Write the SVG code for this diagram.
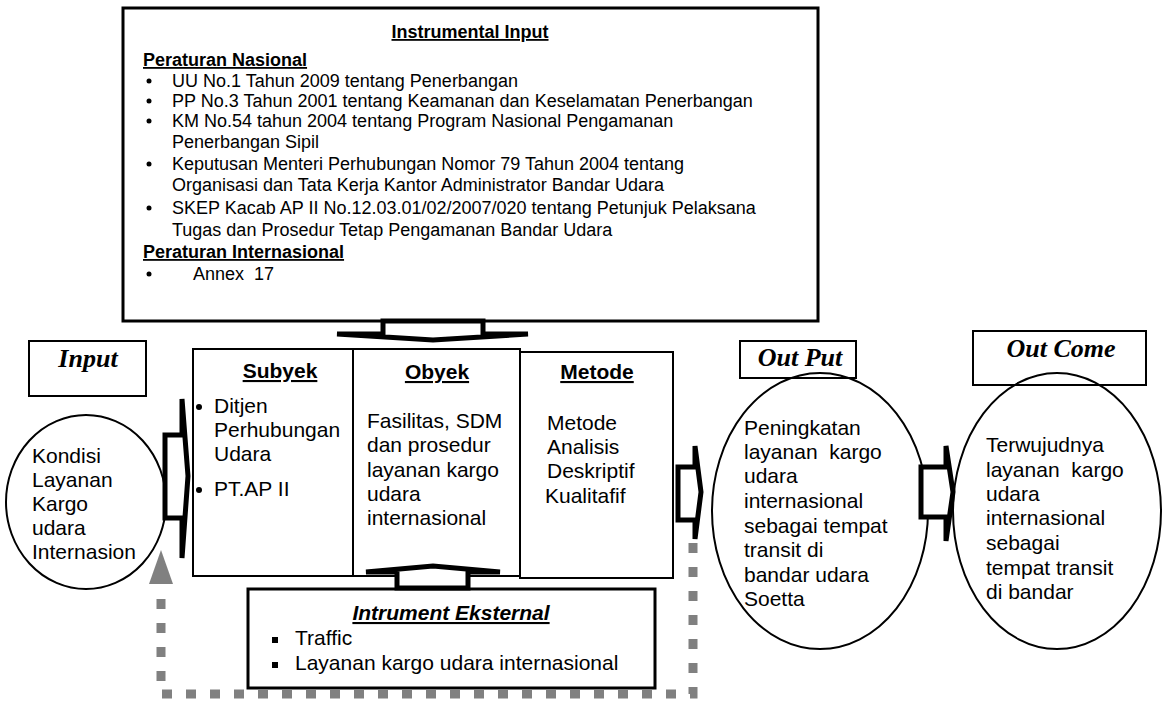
<svg xmlns="http://www.w3.org/2000/svg" width="1165" height="703" viewBox="0 0 1165 703">
<style>
.t{font-family:"Liberation Sans",Arial,sans-serif;fill:#000}
.s18{font-size:18px}
.s21{font-size:21px}
.b{font-weight:bold}
.u{text-decoration:underline}
.ti{font-family:"Liberation Serif","Times New Roman",serif;font-weight:bold;font-style:italic;font-size:26px;fill:#000}
.box{fill:#fff;stroke:#000;stroke-width:2}
.ell{fill:none;stroke:#000;stroke-width:2}
.blk{fill:#fff;stroke:#000;stroke-width:5;stroke-linejoin:miter}
.dot{fill:none;stroke:#808080;stroke-width:9;stroke-dasharray:10 14}
</style>
<rect width="1165" height="703" fill="#fff"/>

<g id="instrumental-input">
<rect x="123" y="8" width="695" height="313" fill="#fff" stroke="#000" stroke-width="3"/>
<text class="t s18 b u" x="470" y="38" text-anchor="middle">Instrumental Input</text>
<text class="t s18 b u" x="143" y="66">Peraturan Nasional</text>
<g fill="#000">
<circle cx="149" cy="81" r="2.5"/><circle cx="149" cy="101" r="2.5"/><circle cx="149" cy="121" r="2.5"/>
<circle cx="149" cy="164" r="2.5"/><circle cx="149" cy="208" r="2.5"/><circle cx="149" cy="274" r="2.5"/>
</g>
<text class="t s18" x="172" y="87">UU No.1 Tahun 2009 tentang Penerbangan</text>
<text class="t s18" x="172" y="107">PP No.3 Tahun 2001 tentang Keamanan dan Keselamatan Penerbangan</text>
<text class="t s18" x="172" y="127">KM No.54 tahun 2004 tentang Program Nasional Pengamanan</text>
<text class="t s18" x="172" y="148">Penerbangan Sipil</text>
<text class="t s18" x="172" y="170">Keputusan Menteri Perhubungan Nomor 79 Tahun 2004 tentang</text>
<text class="t s18" x="172" y="191">Organisasi dan Tata Kerja Kantor Administrator Bandar Udara</text>
<text class="t s18" x="172" y="214">SKEP Kacab AP II No.12.03.01/02/2007/020 tentang Petunjuk Pelaksana</text>
<text class="t s18" x="172" y="236">Tugas dan Prosedur Tetap Pengamanan Bandar Udara</text>
<text class="t s18 b u" x="143" y="258">Peraturan Internasional</text>
<text class="t s18" x="193" y="280" xml:space="preserve">Annex  17</text>
</g>

<g id="input-label">
<rect class="box" x="29" y="341" width="117" height="55"/>
<text class="ti" x="88" y="367" text-anchor="middle">Input</text>
</g>

<g id="input-ellipse">
<ellipse class="ell" cx="86" cy="502" rx="80" ry="87"/>
<text class="t s21" x="32"><tspan x="32" y="463">Kondisi</tspan><tspan x="32" y="487">Layanan</tspan><tspan x="32" y="511">Kargo</tspan><tspan x="32" y="535">udara</tspan><tspan x="32" y="559">Internasion</tspan></text>
</g>

<g id="subyek">
<rect class="box" x="193" y="349" width="160" height="227"/>
<text class="t s21 b u" x="280" y="378" text-anchor="middle">Subyek</text>
<circle cx="199" cy="407" r="3" fill="#000"/>
<circle cx="199" cy="490" r="3" fill="#000"/>
<text class="t s21"><tspan x="214" y="413">Ditjen</tspan><tspan x="214" y="437">Perhubungan</tspan><tspan x="214" y="461">Udara</tspan><tspan x="214" y="496">PT.AP II</tspan></text>
</g>

<g id="obyek">
<rect class="box" x="353" y="349" width="167" height="227"/>
<text class="t s21 b u" x="437" y="379" text-anchor="middle">Obyek</text>
<text class="t s21"><tspan x="367" y="428">Fasilitas, SDM</tspan><tspan x="367" y="452">dan prosedur</tspan><tspan x="367" y="477">layanan kargo</tspan><tspan x="367" y="501">udara</tspan><tspan x="367" y="525">internasional</tspan></text>
</g>

<g id="metode">
<rect class="box" x="520" y="352" width="153" height="226"/>
<text class="t s21 b u" x="597" y="379" text-anchor="middle">Metode</text>
<text class="t s21"><tspan x="547" y="430">Metode</tspan><tspan x="547" y="454">Analisis</tspan><tspan x="547" y="478">Deskriptif</tspan><tspan x="545" y="503">Kualitafif</tspan></text>
</g>

<g id="instrumen-eksternal">
<rect x="248" y="589" width="407" height="99" fill="#fff" stroke="#000" stroke-width="3"/>
<text class="t s21 b u" x="451" y="620" text-anchor="middle" font-style="italic">Intrument Eksternal</text>
<rect x="272" y="637" width="6" height="6" fill="#000"/>
<rect x="272" y="662" width="6" height="6" fill="#000"/>
<text class="t s21" x="295" y="645">Traffic</text>
<text class="t s21" x="295" y="670">Layanan kargo udara internasional</text>
</g>

<g id="output-label">
<rect class="box" x="740" y="341" width="116" height="37"/>
<text class="ti" x="800" y="366" text-anchor="middle">Out Put</text>
</g>

<g id="output-ellipse">
<ellipse class="ell" cx="820" cy="511" rx="108" ry="138"/>
<text class="t s21" xml:space="preserve"><tspan x="744" y="435">Peningkatan</tspan><tspan x="744" y="459">layanan  kargo</tspan><tspan x="744" y="483">udara</tspan><tspan x="744" y="508">internasional</tspan><tspan x="744" y="533">sebagai tempat</tspan><tspan x="744" y="557">transit di</tspan><tspan x="744" y="582">bandar udara</tspan><tspan x="744" y="606">Soetta</tspan></text>
</g>

<g id="outcome-label">
<rect class="box" x="973" y="331" width="173" height="54"/>
<text class="ti" x="1061" y="357" text-anchor="middle">Out Come</text>
</g>

<g id="outcome-ellipse">
<ellipse class="ell" cx="1057" cy="511" rx="104" ry="138"/>
<text class="t s21" xml:space="preserve"><tspan x="986" y="452">Terwujudnya</tspan><tspan x="986" y="477">layanan  kargo</tspan><tspan x="986" y="501">udara</tspan><tspan x="986" y="525">internasional</tspan><tspan x="986" y="550">sebagai</tspan><tspan x="986" y="575">tempat transit</tspan><tspan x="986" y="599">di bandar</tspan></text>
</g>

<g id="connectors">
<polygon class="blk" points="383,321 483,321 483,334 528,334 433,340 337,334 383,334"/>
<polygon class="blk" points="397,588 397,572 366,572 433,566 500,572 468,572 468,588"/>
<polygon class="blk" points="165,435 182,435 182,399 188,476 182,558 182,518 165,518"/>
<polygon class="blk" points="678,467 695,467 695,446 701,492 695,539 695,520 678,520"/>
<polygon class="blk" points="921,467 946,467 946,446 953,492 946,541 946,517 921,517"/>
<path class="dot" d="M693,543 V694 H161 V586"/>
<polygon points="161,550 149,584 173,584" fill="#808080"/>
</g>
</svg>
